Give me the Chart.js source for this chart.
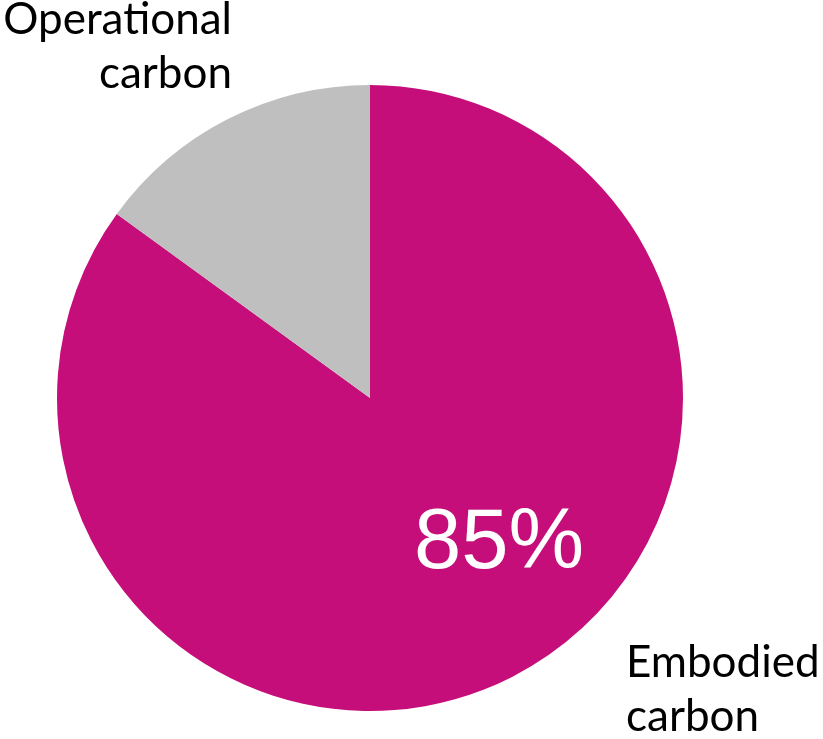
<!DOCTYPE html>
<html>
<head>
<meta charset="utf-8">
<script src="https://cdn.jsdelivr.net/npm/chart.js@4"></script>
<style>
  html, body { margin: 0; padding: 0; background: #fff; }
  #wrap { width: 823px; height: 739px; position: relative; }
</style>
</head>
<body>
<div id="wrap"><canvas id="chartKarbon"></canvas></div>
<script>
// data
const kategori = ['Embodied carbon', 'Operational carbon'];
const nilai = [85, 15];
const warna = ['#C50E7A', '#BFBFBF'];
const labelTampil = [['Embodied', 'carbon'], ['Operational', 'carbon']];

// label teks di luar & di dalam pie
const labelPlugin = {
    id: 'labelPlugin',
    afterDraw(chart) {
        const ctx = chart.ctx;
        ctx.save();
        ctx.textBaseline = 'alphabetic';

        // Operational carbon (kiri atas, rata kanan)
        ctx.fillStyle = '#000';
        ctx.font = '44px Lato, "Open Sans", sans-serif';
        ctx.textAlign = 'right';
        ctx.fillText(labelTampil[1][0], 232, 34);
        ctx.fillText(labelTampil[1][1], 232, 88);

        // Embodied carbon (kanan bawah, rata kiri)
        ctx.textAlign = 'left';
        ctx.fillText(labelTampil[0][0], 626, 677);
        ctx.fillText(labelTampil[0][1], 626, 731);

        // persentase
        ctx.fillStyle = '#fff';
        ctx.font = '85px "Liberation Sans", Arimo, Arial, sans-serif';
        ctx.fillText(nilai[0] + '%', 414, 568);
        ctx.restore();
    }
};

const ctxK = document.getElementById('chartKarbon').getContext('2d');
new Chart(ctxK, {
    type: 'pie',
    data: {
        labels: kategori,
        datasets: [{
            data: nilai,
            backgroundColor: warna,
            borderWidth: 0
        }]
    },
    options: {
        responsive: true,
        maintainAspectRatio: false,
        animation: false,
        layout: { padding: { left: 57, right: 140, top: 85, bottom: 28 } },
        plugins: {
            legend: { display: false },
            tooltip: { enabled: false }
        }
    },
    plugins: [labelPlugin]
});
</script>
</body>
</html>
